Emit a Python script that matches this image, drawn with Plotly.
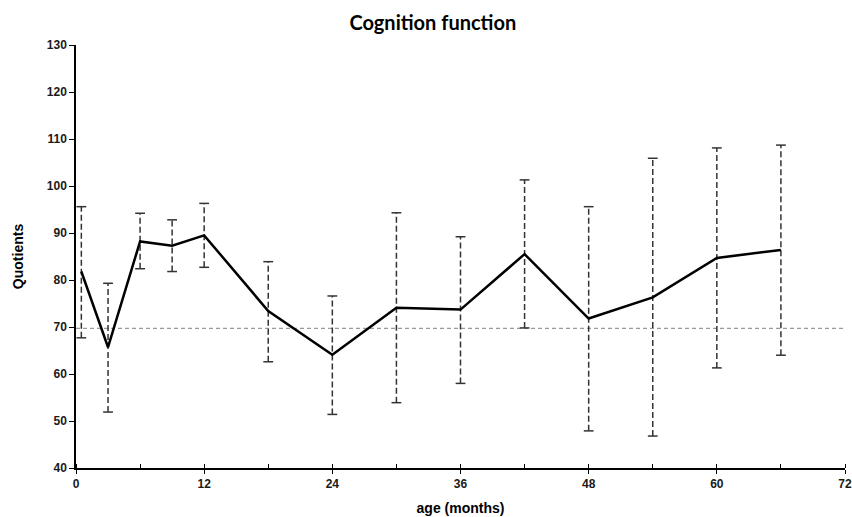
import plotly.graph_objects as go

age = [0.5, 3, 6, 9, 12, 18, 24, 30, 36, 42, 48, 54, 60, 66]
mean = [81.8, 65.7, 88.2, 87.3, 89.5, 73.4, 64.1, 74.1, 73.7, 85.5, 71.8, 76.3, 84.7, 86.4]
upper = [95.6, 79.3, 94.2, 92.8, 96.3, 83.9, 76.6, 94.3, 89.2, 101.3, 95.6, 105.9, 108.1, 108.7]
lower = [67.7, 51.9, 82.4, 81.8, 82.7, 62.6, 51.4, 53.9, 58.0, 69.8, 47.9, 46.8, 61.3, 64.0]
ref_level = 69.7
x_ticks = [0, 12, 24, 36, 48, 60, 72]
y_ticks = [40, 50, 60, 70, 80, 90, 100, 110, 120, 130]

fig = go.Figure()

# reference line
fig.add_trace(go.Scatter(x=[0, 72], y=[ref_level, ref_level], mode="lines",
                         line=dict(color="#9a9a9a", width=1.3, dash="4px,3px"),
                         hoverinfo="skip", showlegend=False))

# dashed error bars
ex, ey = [], []
for a, lo, hi in zip(age, lower, upper):
    ex += [a, a, None]
    ey += [lo, hi, None]
fig.add_trace(go.Scatter(x=ex, y=ey, mode="lines",
                         line=dict(color="#333333", width=1.5, dash="6px,3px"),
                         hoverinfo="skip", showlegend=False))
# caps
fig.add_trace(go.Scatter(x=age + age, y=upper + lower, mode="markers",
                         marker=dict(symbol="line-ew", size=7,
                                     line=dict(color="#333333", width=1.5)),
                         hoverinfo="skip", showlegend=False))

# mean line
fig.add_trace(go.Scatter(x=age, y=mean, mode="lines",
                         line=dict(color="black", width=2.5),
                         showlegend=False))

sans = "Liberation Sans, Arial, sans-serif"
tickfont = dict(family=sans, size=12, color="#1a1a1a", weight=700)

fig.update_layout(
    width=852, height=517,
    margin=dict(l=76, r=7, t=45, b=49, autoexpand=False),
    paper_bgcolor="white", plot_bgcolor="white",
    title=dict(text="<b>Cognition function</b>", x=0.508, xanchor="center",
               y=0.955, yanchor="middle",
               font=dict(family="Lato, Open Sans, sans-serif", size=20, color="black")),
    xaxis=dict(range=[0, 72], tickvals=x_ticks, ticks="outside", ticklen=4,
               tickwidth=1.2, tickcolor="black", automargin=False,
               minor=dict(dtick=6, tick0=0, ticks="inside", ticklen=4,
                          tickwidth=1.2, tickcolor="black"),
               showline=True, linecolor="black", linewidth=1.5,
               showgrid=False, zeroline=False, tickfont=tickfont,
               title=dict(text="<b>age (months)</b>", standoff=13,
                          font=dict(family=sans, size=14, color="black"))),
    yaxis=dict(range=[40, 130], tickvals=y_ticks, ticks="outside", ticklen=5,
               tickwidth=1.2, tickcolor="black", automargin=False,
               showline=True, linecolor="black", linewidth=1.5,
               showgrid=False, zeroline=False, tickfont=tickfont,
               title=dict(text="<b>Quotients</b>", standoff=20,
                          font=dict(family=sans, size=14, color="black"))),
)

fig.write_html("out.html", config={"displayModeBar": False},
               post_script="document.body.style.margin='0px';")
